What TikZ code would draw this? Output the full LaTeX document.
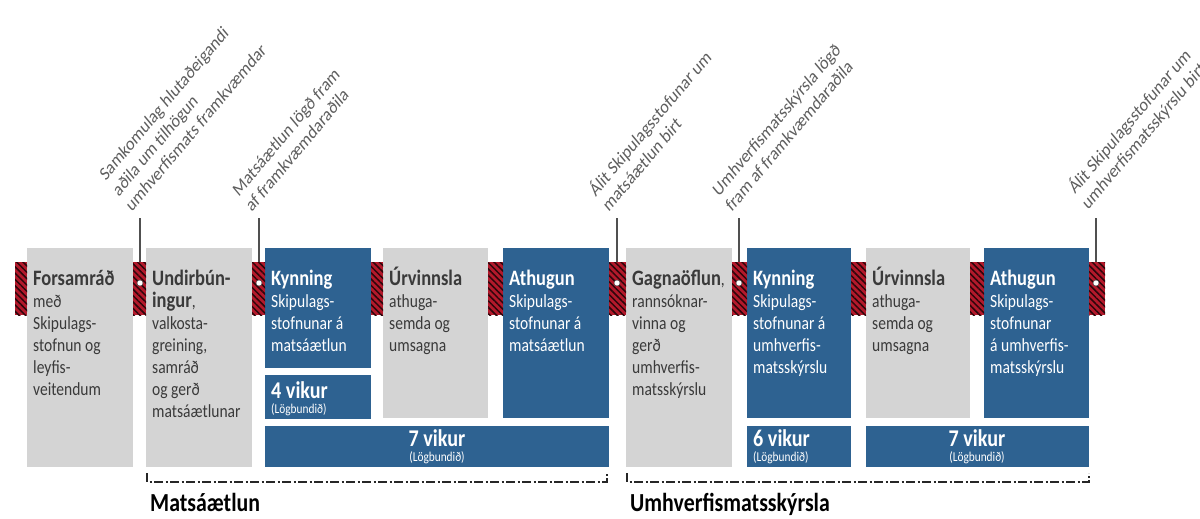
\documentclass[tikz,border=0pt]{standalone}
\usepackage{fontspec}
\setmainfont{Carlito}
\newfontfamily\bxf{Carlito}[FakeStretch=0.84]
\usetikzlibrary{patterns.meta}
\definecolor{boxgray}{HTML}{D4D4D4}
\definecolor{boxblue}{HTML}{2E6291}
\definecolor{hatchred}{HTML}{B3192B}
\definecolor{txtgray}{HTML}{3A3A3A}
\definecolor{labgray}{HTML}{5E5E5E}
\definecolor{linegray}{HTML}{505050}
\newcommand\ttl[1]{{\fontsize{22}{22}\selectfont\bfseries #1}}
\newcommand\fst{\rule{0pt}{20pt}}
\begin{document}
\begin{tikzpicture}[x=1pt,y=-1pt,
  gbox/.style={fill=boxgray, draw=none, anchor=north west, inner sep=0pt, outer sep=0pt},
  bbox/.style={fill=boxblue, draw=none, anchor=north west, inner sep=0pt, outer sep=0pt},
  boxtxt/.style={anchor=north west, inner sep=0pt, align=left, font=\bxf\fontsize{18.5}{22}\selectfont, text=txtgray},
  btxt/.style={boxtxt, text=white},
  vik/.style={inner sep=0pt, text=white, font=\bxf\fontsize{24}{24}\selectfont\bfseries},
  law/.style={inner sep=0pt, text=white, font=\bxf\fontsize{13.5}{15}\selectfont},
  hatch/.style={fill=hatchred, draw=none, anchor=north west, inner sep=0pt, outer sep=0pt, minimum height=53pt,
     postaction={pattern={Lines[angle=-45,distance=4.5pt,line width=1.5pt]}, pattern color=black!75!hatchred}},
  vline/.style={draw=linegray, line width=1.2pt},
  dotm/.style={circle, fill=white, draw=black!70, line width=0.5pt, minimum size=6pt, inner sep=0pt},
  lab/.style={rotate=45, transform shape, anchor=south west, inner sep=0pt, align=left, text=labgray, font=\fontsize{19}{22}\selectfont},
  brk/.style={draw=black!85, line width=1.2pt, dash pattern=on 9pt off 2.5pt on 2pt off 2.5pt},
  sect/.style={anchor=base west, inner sep=0pt, font=\bxf\fontsize{26}{26}\selectfont\bfseries, text=black}
]
\useasboundingbox (0,0) rectangle (1200,519);

% boxes
\node[gbox, minimum width=106pt, minimum height=219pt] (b1) at (27,248) {};
\node[gbox, minimum width=106pt, minimum height=219pt] (b2) at (146,248) {};
\node[bbox, minimum width=106pt, minimum height=120pt] (b3) at (265,248) {};
\node[bbox, minimum width=106pt, minimum height=44pt] (b4) at (265,375) {};
\node[gbox, minimum width=105pt, minimum height=170pt] (b5) at (383,248) {};
\node[bbox, minimum width=106pt, minimum height=170pt] (b6) at (503,248) {};
\node[bbox, minimum width=344pt, minimum height=41pt] (b7) at (265,426) {};
\node[gbox, minimum width=106pt, minimum height=219pt] (b8) at (626,248) {};
\node[bbox, minimum width=104pt, minimum height=170pt] (b9) at (747,248) {};
\node[bbox, minimum width=104pt, minimum height=41pt] (b10) at (747,426) {};
\node[gbox, minimum width=104pt, minimum height=170pt] (b11) at (866,248) {};
\node[bbox, minimum width=105pt, minimum height=170pt] (b12) at (984,248) {};
\node[bbox, minimum width=223pt, minimum height=41pt] (b13) at (866,426) {};

% box texts
\node[boxtxt] (t1) at (33,265) {\fst\ttl{Forsamráð}\\með\\Skipulags-\\stofnun og\\leyfis-\\veitendum};
\node[boxtxt] (t2) at (152,265) {\fst\ttl{Undirbún-}\\\ttl{ingur},\\valkosta-\\greining,\\samráð\\og gerð\\matsáætlunar};
\node[btxt] (t3) at (271,265) {\fst\ttl{Kynning}\\Skipulags-\\stofnunar á\\matsáætlun};
\node[boxtxt] (t5) at (389,265) {\fst\ttl{Úrvinnsla}\\athuga-\\semda og\\umsagna};
\node[btxt] (t6) at (509,265) {\fst\ttl{Athugun}\\Skipulags-\\stofnunar á\\matsáætlun};
\node[boxtxt] (t8) at (632,265) {\fst\ttl{Gagnaöflun},\\rannsóknar-\\vinna og\\gerð\\umhverfis-\\matsskýrslu};
\node[btxt] (t9) at (753,265) {\fst\ttl{Kynning}\\Skipulags-\\stofnunar á\\umhverfis-\\matsskýrslu};
\node[boxtxt] (t11) at (872,265) {\fst\ttl{Úrvinnsla}\\athuga-\\semda og\\umsagna};
\node[btxt] (t12) at (990,265) {\fst\ttl{Athugun}\\Skipulags-\\stofnunar\\á umhverfis-\\matsskýrslu};

% durations
\node[vik, anchor=base west] (v4) at (271,398) {4 vikur};
\node[law, anchor=base west] (w4) at (271,413) {(Lögbundið)};
\node[vik, anchor=base] (v7) at (437,446) {7 vikur};
\node[law, anchor=base] (w7) at (437,461) {(Lögbundið)};
\node[vik, anchor=base west] (v10) at (753,446) {6 vikur};
\node[law, anchor=base west] (w10) at (753,461) {(Lögbundið)};
\node[vik, anchor=base] (v13) at (977,446) {7 vikur};
\node[law, anchor=base] (w13) at (977,461) {(Lögbundið)};

% milestone lines (under the hatches)
\coordinate (p1) at (140,218);
\coordinate (p2) at (259,218);
\coordinate (p3) at (617,218);
\coordinate (p4) at (739,218);
\coordinate (p5) at (1096,218);
\node[dotm] (d1) at (140,283) {};
\node[dotm] (d2) at (259,283) {};
\node[dotm] (d3) at (617,283) {};
\node[dotm] (d4) at (739,283) {};
\node[dotm] (d5) at (1096,283) {};
\draw[vline] (p1) -- (d1.center);
\draw[vline] (p2) -- (d2.center);
\draw[vline] (p3) -- (d3.center);
\draw[vline] (p4) -- (d4.center);
\draw[vline] (p5) -- (d5.center);

% hatches
\node[hatch, minimum width=12pt] (h1) at (15,262) {};
\node[hatch, minimum width=13pt] (h2) at (133,262) {};
\node[hatch, minimum width=13pt] (h3) at (252,262) {};
\node[hatch, minimum width=12pt] (h4) at (371,262) {};
\node[hatch, minimum width=15pt] (h5) at (488,262) {};
\node[hatch, minimum width=17pt] (h6) at (609,262) {};
\node[hatch, minimum width=15pt] (h7) at (732,262) {};
\node[hatch, minimum width=15pt] (h8) at (851,262) {};
\node[hatch, minimum width=14pt] (h9) at (970,262) {};
\node[hatch, minimum width=16pt] (h10) at (1089,262) {};

% dots on top
\node[dotm] at (d1) {};
\node[dotm] at (d2) {};
\node[dotm] at (d3) {};
\node[dotm] at (d4) {};
\node[dotm] at (d5) {};

% rotated labels
\begin{scope}[shift={(132,213)}, xscale=0.84]
\node[lab] (L1) at (0,0) {Samkomulag hlutaðeigandi\\aðila um tilhögun\\umhverfismats framkvæmdar};
\end{scope}
\begin{scope}[shift={(252,213)}, xscale=0.84]
\node[lab] (L2) at (0,0) {Matsáætlun lögð fram\\af framkvæmdaraðila};
\end{scope}
\begin{scope}[shift={(609,213)}, xscale=0.84]
\node[lab] (L3) at (0,0) {Álit Skipulagsstofunar um\\matsáætlun birt};
\end{scope}
\begin{scope}[shift={(732,213)}, xscale=0.84]
\node[lab] (L4) at (0,0) {Umhverfismatsskýrsla lögð\\fram af framkvæmdaraðila};
\end{scope}
\begin{scope}[shift={(1090,213)}, xscale=0.84]
\node[lab] (L5) at (0,0) {Álit Skipulagsstofunar um\\umhverfismatsskýrslu birt};
\end{scope}

% brackets
\coordinate (k1a) at (147,473);
\coordinate (k1b) at (607,473);
\coordinate (k2a) at (627,473);
\coordinate (k2b) at (1089,473);
\draw[brk] (k1a) -- (k1a |- 0,482) -- (k1b |- 0,482) -- (k1b);
\draw[brk] (k2a) -- (k2a |- 0,482) -- (k2b |- 0,482) -- (k2b);
\node[sect] (s1) at (150,511) {Matsáætlun};
\node[sect] (s2) at (630,511) {Umhverfismatsskýrsla};
\end{tikzpicture}
\end{document}
